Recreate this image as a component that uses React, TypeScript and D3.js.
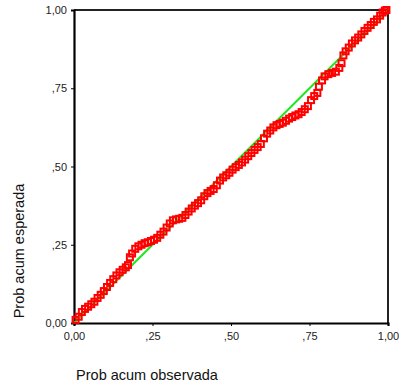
import React, { useRef, useEffect } from "react";
import * as d3 from "d3";

// observed cumulative probability (x) and expected cumulative probability (y)
const observed = [
  0.005, 0.015, 0.025, 0.035, 0.045, 0.055, 0.065, 0.075, 0.085, 0.095,
  0.105, 0.115, 0.125, 0.135, 0.145, 0.155, 0.165, 0.172, 0.178, 0.185,
  0.195, 0.205, 0.215, 0.225, 0.235, 0.245, 0.255, 0.265, 0.275, 0.285,
  0.295, 0.305, 0.315, 0.325, 0.335, 0.345, 0.355, 0.365, 0.375, 0.385,
  0.395, 0.405, 0.415, 0.425, 0.435, 0.445, 0.455, 0.465, 0.475, 0.485,
  0.495, 0.505, 0.515, 0.525, 0.535, 0.545, 0.555, 0.565, 0.575, 0.585,
  0.595, 0.605, 0.615, 0.625, 0.635, 0.645, 0.655, 0.665, 0.675, 0.685,
  0.695, 0.705, 0.715, 0.725, 0.735, 0.745, 0.755, 0.765, 0.775, 0.78,
  0.79, 0.798, 0.81, 0.822, 0.834, 0.845, 0.852, 0.858, 0.865, 0.875,
  0.885, 0.895, 0.905, 0.915, 0.925, 0.935, 0.945, 0.955, 0.965, 0.975,
  0.983, 0.99, 0.995,
];
const expected = [
  0.01, 0.02, 0.035, 0.045, 0.052, 0.06, 0.068, 0.08, 0.09, 0.102,
  0.115, 0.128, 0.14, 0.152, 0.162, 0.17, 0.178, 0.185, 0.21, 0.222,
  0.237, 0.245, 0.25, 0.255, 0.258, 0.262, 0.266, 0.272, 0.282, 0.292,
  0.305, 0.318, 0.328, 0.331, 0.333, 0.336, 0.345, 0.356, 0.366, 0.375,
  0.383, 0.392, 0.405, 0.415, 0.422, 0.428, 0.44, 0.455, 0.465, 0.472,
  0.48, 0.49, 0.498, 0.505, 0.513, 0.522, 0.533, 0.543, 0.553, 0.562,
  0.572, 0.59, 0.605, 0.615, 0.625, 0.632, 0.636, 0.64, 0.646, 0.653,
  0.658, 0.663, 0.667, 0.674, 0.683, 0.693, 0.712, 0.725, 0.735, 0.755,
  0.775, 0.788, 0.795, 0.799, 0.803, 0.815, 0.83, 0.855, 0.868, 0.88,
  0.893, 0.903, 0.912, 0.922, 0.933, 0.943, 0.952, 0.962, 0.97, 0.982,
  0.992, 0.998, 1.0,
];
const tickValues = [0, 0.25, 0.5, 0.75, 1];
const tickLabels = ["0,00", ",25", ",50", ",75", "1,00"];

export default function App() {
  const svgRef = useRef<SVGSVGElement>(null);

  useEffect(() => {
    const svg = d3.select(svgRef.current);
    svg.selectAll("*").remove();

    const x = d3.scaleLinear().domain([0, 1]).range([74, 388]);
    const y = d3.scaleLinear().domain([0, 1]).range([323, 10]);
    const font = "'Liberation Sans', Arial, sans-serif";

    // frame top/right
    svg.append("line")
      .attr("x1", x(0)).attr("x2", x(1)).attr("y1", y(1)).attr("y2", y(1))
      .attr("stroke", "#222").attr("stroke-width", 2);
    svg.append("line")
      .attr("x1", x(1)).attr("x2", x(1)).attr("y1", y(1)).attr("y2", y(0))
      .attr("stroke", "#222").attr("stroke-width", 2);

    // axes
    const yAxis = d3.axisLeft(y)
      .tickValues(tickValues)
      .tickFormat((d, i) => tickLabels[i])
      .tickSize(3)
      .tickPadding(4);
    const xAxis = d3.axisBottom(x)
      .tickValues(tickValues)
      .tickFormat((d, i) => tickLabels[i])
      .tickSize(3)
      .tickPadding(6);

    const gy = svg.append("g").attr("transform", `translate(${x(0)},0)`).call(yAxis);
    const gx = svg.append("g").attr("transform", `translate(0,${y(0)})`).call(xAxis);
    [gx, gy].forEach((g) => {
      g.select(".domain").attr("stroke", "#000").attr("stroke-width", 2.2);
      g.selectAll(".tick line").attr("stroke", "#000").attr("stroke-width", 1);
      g.selectAll(".tick text")
        .attr("font-family", font)
        .attr("font-size", 11)
        .attr("fill", "#222");
    });

    // reference line
    svg.append("line")
      .attr("x1", x(0)).attr("y1", y(0)).attr("x2", x(1)).attr("y2", y(1))
      .attr("stroke", "#1ee81e").attr("stroke-width", 2);

    // points
    const data = observed.map((o, i) => ({ o, e: expected[i] }));
    const s = 6;
    svg.append("g")
      .selectAll("rect")
      .data(data)
      .join("rect")
      .attr("x", (d) => x(d.o) - s / 2)
      .attr("y", (d) => y(d.e) - s / 2)
      .attr("width", s)
      .attr("height", s)
      .attr("fill", "none")
      .attr("stroke", "#ff0000")
      .attr("stroke-width", 2);

    // titles
    svg.append("text")
      .attr("x", 147).attr("y", 380)
      .attr("text-anchor", "middle")
      .attr("font-family", font).attr("font-size", 14.5).attr("fill", "#111")
      .text("Prob acum observada");
    svg.append("text")
      .attr("transform", `translate(24,251) rotate(-90)`)
      .attr("text-anchor", "middle")
      .attr("font-family", font).attr("font-size", 14.5).attr("fill", "#111")
      .text("Prob acum esperada");
  }, []);

  return (
    <svg
      ref={svgRef}
      width={399}
      height={385}
      style={{ position: "absolute", left: 0, top: 0, background: "#fff" }}
    />
  );
}
